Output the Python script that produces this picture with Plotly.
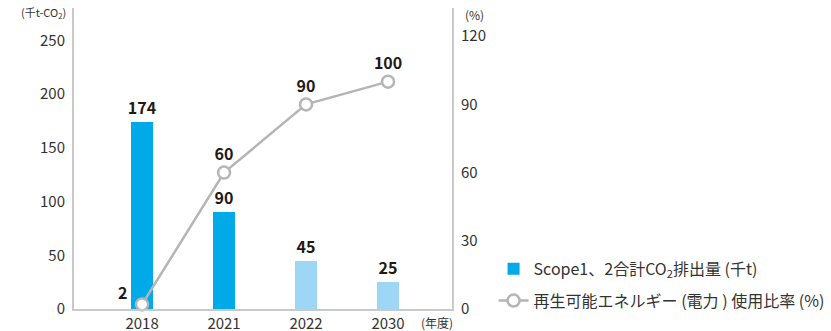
import plotly.graph_objects as go

years = ["2018", "2021", "2022", "2030"]
co2 = [174, 90, 45, 25]
renew = [2, 60, 90, 100]
bar_colors = ["#00A9E8", "#00A9E8", "#9DD7F5", "#9DD7F5"]
left_ticks = [0, 50, 100, 150, 200, 250]
right_ticks = [0, 30, 60, 90, 120]

FONT = "Noto Sans CJK JP"
TXT = "#333333"
AX = "#C9C9C9"
LBL = dict(family=FONT, size=16, color="#231815", weight="bold")

fig = go.Figure()
fig.add_trace(go.Bar(
    x=years, y=co2, name="Scope1、2合計CO<sub>2</sub>排出量 (千t)",
    legendgroup="a",
    marker=dict(color=bar_colors, line=dict(width=0)), width=0.27,
    text=[str(v) for v in co2], textposition="outside", cliponaxis=False,
    constraintext="none", textfont=LBL, yaxis="y",
))
fig.add_trace(go.Scatter(
    x=years, y=renew, name="再生可能エネルギー (電力 ) 使用比率 (%)",
    legendgroup="b",
    mode="lines+markers+text", yaxis="y2", cliponaxis=False,
    line=dict(color="#B5B5B5", width=2.5),
    marker=dict(size=12, color="white", line=dict(color="#B5B5B5", width=2.5)),
    text=[""] + [str(v) for v in renew[1:]],
    textposition="top center", textfont=LBL,
))

fig.update_layout(
    width=831, height=331,
    margin=dict(l=74, r=379, t=8, b=22, autoexpand=False),
    plot_bgcolor="white", paper_bgcolor="white",
    font=dict(family=FONT, size=15, color=TXT),
    bargap=0,
    showlegend=True,
    legend=dict(x=1.11, y=0.19, xanchor="left", yanchor="top",
                traceorder="grouped",
                font=dict(family=FONT, size=16, color=TXT),
                tracegroupgap=8, itemwidth=30),
    xaxis=dict(type="category", range=[-0.83, 3.78], showline=True, linecolor=AX,
               linewidth=2, ticks="", showgrid=False, automargin=False,
               tickfont=dict(size=15, color=TXT)),
    yaxis=dict(range=[0, 280], tickvals=left_ticks, showline=True, linecolor=AX,
               linewidth=2, ticks="", showgrid=False, zeroline=False, automargin=False,
               tickfont=dict(size=15, color=TXT), ticklabelstandoff=4),
    yaxis2=dict(range=[0, 132.4], tickvals=right_ticks, overlaying="y", side="right",
                showline=True, linecolor=AX, linewidth=2, ticks="", showgrid=False,
                zeroline=False, automargin=False,
                tickfont=dict(size=15, color=TXT), ticklabelstandoff=4),
    annotations=[
        dict(text=str(renew[0]), x=years.index(years[0]), y=renew[0], xref="x", yref="y2",
             xanchor="right", yanchor="bottom", xshift=-13, yshift=-2,
             showarrow=False, font=LBL),
        dict(text="(千t-CO<sub>2</sub>)", xref="paper", yref="paper", x=-0.016, y=0.985,
             xanchor="right", yanchor="middle", showarrow=False,
             font=dict(size=11, color=TXT)),
        dict(text="(%)", xref="paper", yref="paper", x=1.03, y=0.98,
             xanchor="left", yanchor="middle", showarrow=False,
             font=dict(size=12, color=TXT)),
        dict(text="(年度)", xref="paper", yref="paper", x=0.96, y=-0.045,
             xanchor="center", yanchor="middle", showarrow=False,
             font=dict(size=12, color=TXT)),
    ],
)
fig.write_html("out.html")
